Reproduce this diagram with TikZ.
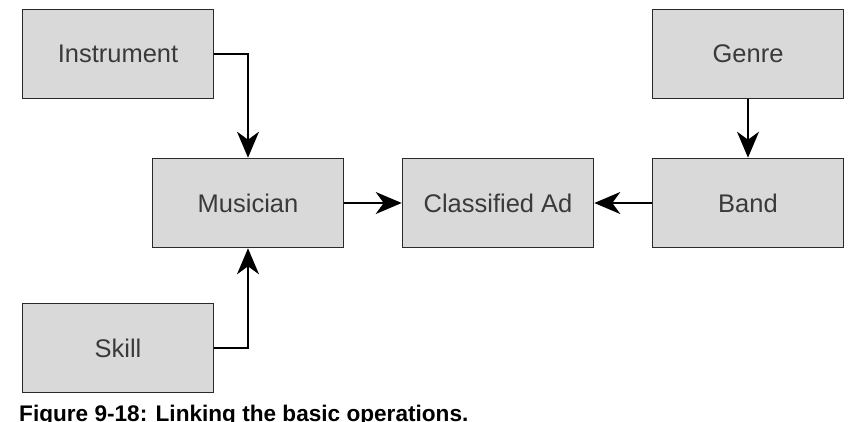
\documentclass[tikz,border=0pt]{standalone}
\usepackage{fontspec}
\setmainfont{Liberation Sans}
\usetikzlibrary{arrows.meta}
\definecolor{boxfill}{HTML}{D9D9D9}
\definecolor{boxline}{HTML}{2A2A2A}
\definecolor{labeltext}{HTML}{3A3A3A}
\tikzset{
  opbox/.style={draw=boxline, line width=1.6pt, fill=boxfill, rectangle,
    minimum width=191pt, minimum height=89pt, inner sep=0pt,
    font=\fontsize{25.5}{28}\selectfont, text=labeltext},
  link/.style={line width=1.4pt, draw=black,
    -{Stealth[length=26pt, width=22pt, inset=8pt]}}
}
\begin{document}
\begin{tikzpicture}[x=1pt, y=-1pt]
  \useasboundingbox (0,0) rectangle (850,422);
  \fill[white] (0,0) rectangle (850,422);

  % operation boxes
  \node[opbox] (instrument) at (118,54)  {Instrument};
  \node[opbox] (genre)      at (748,54)  {Genre};
  \node[opbox] (musician)   at (248,203) {Musician};
  \node[opbox] (ad)         at (498,203) {Classified Ad};
  \node[opbox] (band)       at (748,203) {Band};
  \node[opbox] (skill)      at (118,348) {Skill};

  % links between operations
  \draw[link] (instrument.east) -| (musician.north);
  \draw[link] (skill.east) -| (musician.south);
  \draw[link] (genre.south) -- (band.north);
  \draw[link] (musician.east) -- (ad.west);
  \draw[link] (band.west) -- (ad.east);

  % figure caption
  \node[anchor=base west, inner sep=0pt, font=\bfseries\fontsize{22.6}{24}\selectfont]
    (caption) at (19,421) {Figure 9-18: Linking the basic operations.};
\end{tikzpicture}
\end{document}
